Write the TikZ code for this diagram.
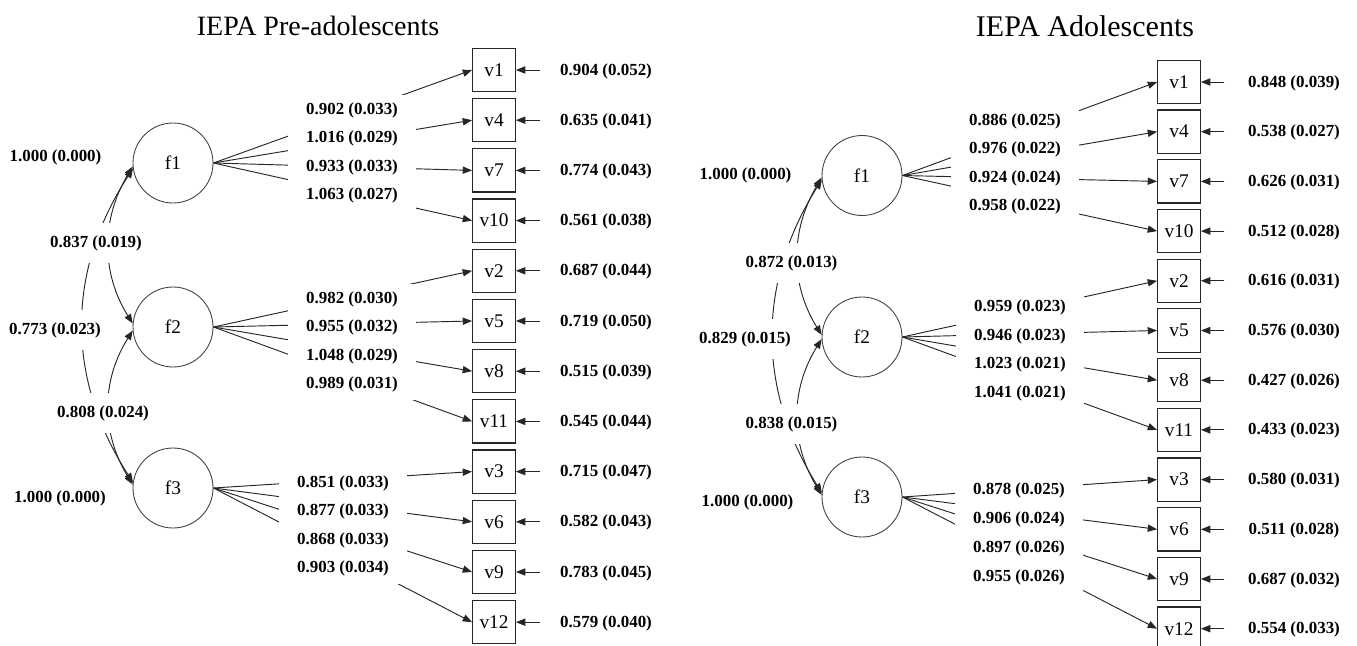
\documentclass[tikz,border=0pt]{standalone}
\usepackage{fontspec}
\setmainfont{Liberation Serif}
\usetikzlibrary{arrows.meta}
\begin{document}
\begin{tikzpicture}[x=0.75pt,y=-0.75pt,
  lat/.style={circle,draw=black!75,line width=0.65pt,minimum size=60pt,inner sep=0pt,font=\fontsize{14.5}{16}\selectfont},
  obs/.style={rectangle,draw=black!85,line width=0.9pt,minimum width=32pt,minimum height=32.5pt,inner sep=0pt,font=\fontsize{14.5}{16}\selectfont},
  lab/.style={font=\fontsize{12.7}{14}\selectfont\bfseries,inner sep=0pt},
  ldl/.style={lab,fill=white,minimum width=95.5pt,minimum height=22.5pt},
  cvl/.style={lab,fill=white,minimum height=30.5pt},
  ed/.style={line width=0.7pt,draw=black!85,-{Triangle[length=7pt,width=5.4pt]}},
  cov/.style={line width=0.7pt,draw=black!85,{Triangle[length=7pt,width=5.4pt]}-{Triangle[length=7pt,width=5.4pt]}},
  ttl/.style={font=\fontsize{21}{24}\selectfont}
]
\useasboundingbox (0,0) rectangle (1357,646);

% titles
\node[ttl] (T1) at (318,26) {IEPA Pre-adolescents};
\node[ttl,font=\fontsize{22.5}{25}\selectfont] (T2) at (1085,26) {IEPA Adolescents};

% ===== LEFT PANEL =====
\node[lat] (Lf1) at (173,163) {f1};
\node[lat] (Lf2) at (173,327) {f2};
\node[lat] (Lf3) at (173,488) {f3};

\foreach \v/\r [count=\i from 0] in {1/0.904 (0.052),4/0.635 (0.041),7/0.774 (0.043),10/0.561 (0.038),2/0.687 (0.044),5/0.719 (0.050),8/0.515 (0.039),11/0.545 (0.044),3/0.715 (0.047),6/0.582 (0.043),9/0.783 (0.045),12/0.579 (0.040)}{
  \node[obs] (Lv\v) at (494,{70+50.2*\i}) {v\v};
  \coordinate (Le\v) at (540,{70+50.2*\i});
  \node[lab] (Lr\v) at (606,{71+50.2*\i}) {\r};
  \draw[ed] (Le\v) -- (Lv\v.east);
}

% loadings
\foreach \f/\v in {1/1,1/4,1/7,1/10,2/2,2/5,2/8,2/11,3/3,3/6,3/9,3/12}{
  \draw[ed] (Lf\f.east) -- (Lv\v.west);
}
\node[ldl] (La1) at (352,110) {0.902 (0.033)};
\node[ldl] (La4) at (352,138.5) {1.016 (0.029)};
\node[ldl] (La7) at (352,167) {0.933 (0.033)};
\node[ldl] (La10) at (352,195.5) {1.063 (0.027)};
\node[ldl] (La2) at (352,299) {0.982 (0.030)};
\node[ldl] (La5) at (352,327.5) {0.955 (0.032)};
\node[ldl] (La8) at (352,356) {1.048 (0.029)};
\node[ldl] (La11) at (352,384.5) {0.989 (0.031)};
\node[ldl] (La3) at (343,483) {0.851 (0.033)};
\node[ldl] (La6) at (343,511.5) {0.877 (0.033)};
\node[ldl] (La9) at (343,540) {0.868 (0.033)};
\node[ldl] (La12) at (343,568.5) {0.903 (0.034)};

% covariances
\draw[cov] (Lf1.185) .. controls (101,219) and (101,273) .. (Lf2.175);
\draw[cov] (Lf1.188) .. controls (66,272) and (66,378) .. (Lf3.172);
\draw[cov] (Lf2.185) .. controls (101,381) and (101,433) .. (Lf3.175);
\node[cvl] (Lc12) at (96,243) {0.837 (0.019)};
\node[cvl] (Lc13) at (55,330) {0.773 (0.023)};
\node[cvl] (Lc23) at (103,413) {0.808 (0.024)};
\node[lab] (Lvar1) at (55.5,157) {1.000 (0.000)};
\node[lab] (Lvar3) at (60,498) {1.000 (0.000)};

% ===== RIGHT PANEL =====
\node[lat] (Rf1) at (862,175.5) {f1};
\node[lat] (Rf2) at (862,337) {f2};
\node[lat] (Rf3) at (862,497) {f3};

\foreach \v/\r [count=\i from 0] in {1/0.848 (0.039),4/0.538 (0.027),7/0.626 (0.031),10/0.512 (0.028),2/0.616 (0.031),5/0.576 (0.030),8/0.427 (0.026),11/0.433 (0.023),3/0.580 (0.031),6/0.511 (0.028),9/0.687 (0.032),12/0.554 (0.033)}{
  \node[obs] (Rv\v) at (1179,{82+49.7*\i}) {v\v};
  \coordinate (Re\v) at (1224,{82+49.7*\i});
  \node[lab] (Rr\v) at (1294,{83+49.7*\i}) {\r};
  \draw[ed] (Re\v) -- (Rv\v.east);
}

\foreach \f/\v in {1/1,1/4,1/7,1/10,2/2,2/5,2/8,2/11,3/3,3/6,3/9,3/12}{
  \draw[ed] (Rf\f.east) -- (Rv\v.west);
}
\node[ldl] (Ra1) at (1015,121) {0.886 (0.025)};
\node[ldl] (Ra4) at (1015,149.5) {0.976 (0.022)};
\node[ldl] (Ra7) at (1015,178) {0.924 (0.024)};
\node[ldl] (Ra10) at (1015,206.5) {0.958 (0.022)};
\node[ldl] (Ra2) at (1020,307) {0.959 (0.023)};
\node[ldl] (Ra5) at (1020,336) {0.946 (0.023)};
\node[ldl] (Ra8) at (1020,364.5) {1.023 (0.021)};
\node[ldl] (Ra11) at (1020,393) {1.041 (0.021)};
\node[ldl] (Ra3) at (1019,490) {0.878 (0.025)};
\node[ldl] (Ra6) at (1019,519) {0.906 (0.024)};
\node[ldl] (Ra9) at (1019,548) {0.897 (0.026)};
\node[ldl] (Ra12) at (1019,577) {0.955 (0.026)};

\draw[cov] (Rf1.183) .. controls (790,231) and (790,284) .. (Rf2.177);
\draw[cov] (Rf1.186) .. controls (757,283) and (757,389) .. (Rf3.174);
\draw[cov] (Rf2.183) .. controls (790,390) and (790,443) .. (Rf3.177);
\node[cvl] (Rc12) at (791.5,263) {0.872 (0.013)};
\node[cvl] (Rc13) at (745,339) {0.829 (0.015)};
\node[cvl] (Rc23) at (791.5,424) {0.838 (0.015)};
\node[lab] (Rvar1) at (745.5,175) {1.000 (0.000)};
\node[lab] (Rvar3) at (747.5,502) {1.000 (0.000)};
\end{tikzpicture}
\end{document}
